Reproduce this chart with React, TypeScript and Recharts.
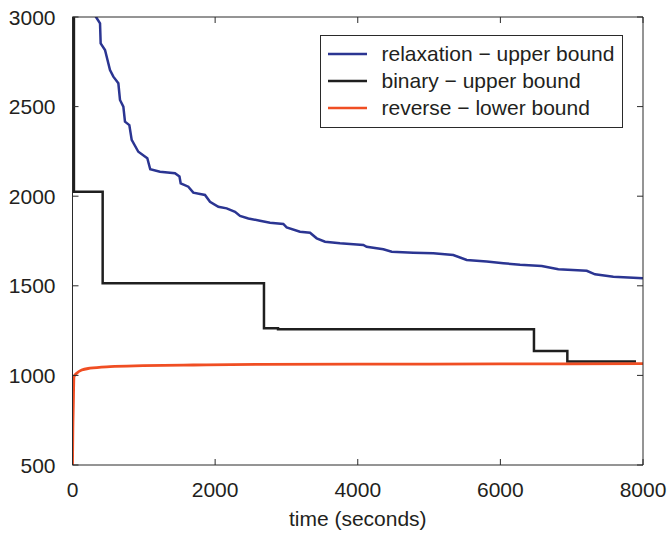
import React from 'react';
import { LineChart, Line, XAxis, YAxis, Legend } from 'recharts';

const relaxTime = [290, 330, 386, 395, 456, 526, 573, 643, 666, 713, 736, 797, 830, 923, 1049, 1090, 1227, 1437, 1500, 1517, 1624, 1694, 1858, 1928, 2045, 2162, 2279, 2349, 2466, 2629, 2770, 2956, 3003, 3190, 3331, 3424, 3541, 3751, 4078, 4125, 4359, 4476, 4779, 5060, 5340, 5528, 5808, 6042, 6276, 6580, 6813, 7211, 7327, 7584, 7865, 8000];
const relaxValue = [3030, 3000, 2965, 2853, 2816, 2704, 2667, 2630, 2537, 2500, 2416, 2397, 2314, 2248, 2212, 2150, 2137, 2128, 2110, 2072, 2053, 2020, 2007, 1969, 1941, 1932, 1913, 1890, 1876, 1863, 1852, 1845, 1826, 1802, 1796, 1765, 1746, 1737, 1728, 1718, 1704, 1690, 1685, 1681, 1672, 1644, 1635, 1626, 1617, 1611, 1592, 1584, 1564, 1551, 1545, 1542];

const binaryTime = [20, 20, 423, 2685, 2882, 6471, 6939, 7902];
const binaryValue = [3600, 2025, 1514, 1263, 1257, 1136, 1077, 1077];

const reverseTime = [0, 5, 11, 21, 59, 129, 245, 526, 993, 1694, 2629, 4000, 6000, 8000];
const reverseValue = [500, 700, 825, 993, 1012, 1030, 1040, 1049, 1054, 1058, 1062, 1063, 1064, 1066];

const xTicks = [0, 2000, 4000, 6000, 8000];
const yTicks = [500, 1000, 1500, 2000, 2500, 3000];
const seriesNames = ['relaxation − upper bound', 'binary − upper bound', 'reverse − lower bound'];
const seriesColors = ['#2b3592', '#1f1f1f', '#f04e23'];
const xLabel = 'time (seconds)';

const toRows = (ts: number[], vs: number[]) => ts.map((t, i) => ({ t, v: vs[i] }));
const relaxData = toRows(relaxTime, relaxValue);
const binaryData = toRows(binaryTime, binaryValue);
const reverseData = toRows(reverseTime, reverseValue);

const FONT = '"Liberation Sans", Arial, Helvetica, sans-serif';
const TEXT = '#231f20';
const AXIS = '#2a2a2a';
const FS = 21;

const BottomTick = (props: any) => {
  const { x, y, payload } = props;
  return (
    <g>
      <line x1={x} x2={x} y1={y} y2={y - 6} stroke={AXIS} strokeWidth={1} />
      <text x={x} y={y + 32} textAnchor="middle" fontSize={FS} fontFamily={FONT} fill={TEXT}>
        {payload.value}
      </text>
    </g>
  );
};

const LeftTick = (props: any) => {
  const { x, y, payload } = props;
  return (
    <g>
      <line x1={x} x2={x + 6} y1={y} y2={y} stroke={AXIS} strokeWidth={1} />
      <text x={x - 17} y={y + 7.5} textAnchor="end" fontSize={FS} fontFamily={FONT} fill={TEXT}>
        {payload.value}
      </text>
    </g>
  );
};

const TopTick = (props: any) => {
  const { x, y } = props;
  return <line x1={x} x2={x} y1={y} y2={y + 6} stroke={AXIS} strokeWidth={1} />;
};

const RightTick = (props: any) => {
  const { x, y } = props;
  return <line x1={x - 6} x2={x} y1={y} y2={y} stroke={AXIS} strokeWidth={1} />;
};

const LegendBox = () => {
  const rowY = [19, 46, 73];
  return (
    <svg width={303} height={93} style={{ display: 'block' }}>
      <rect x={0.5} y={0.5} width={302} height={92} fill="#ffffff" stroke={AXIS} strokeWidth={1} />
      {seriesNames.map((name, i) => (
        <g key={name}>
          <line x1={8} x2={47} y1={rowY[i]} y2={rowY[i]} stroke={seriesColors[i]} strokeWidth={2.3} />
          <text x={61.5} y={rowY[i] + 7} fontSize={FS} fontFamily={FONT} fill={TEXT}>
            {name}
          </text>
        </g>
      ))}
    </svg>
  );
};

export default function App() {
  return (
    <div style={{ position: 'absolute', left: 0, top: 0, background: '#ffffff' }}>
      <LineChart width={668} height={534} margin={{ top: 16, right: 24, bottom: 0, left: 0 }}>
        <XAxis
          xAxisId="b"
          type="number"
          dataKey="t"
          domain={[0, 8000]}
          ticks={xTicks}
          interval={0}
          allowDataOverflow
          height={69}
          tickSize={0}
          tickMargin={0}
          tick={<BottomTick />}
          axisLine={{ stroke: AXIS, strokeWidth: 1 }}
          label={{ value: xLabel, position: 'insideBottom', offset: 8, fill: TEXT, fontSize: FS, fontFamily: FONT }}
        />
        <XAxis
          xAxisId="t"
          orientation="top"
          type="number"
          dataKey="t"
          domain={[0, 8000]}
          ticks={xTicks}
          interval={0}
          allowDataOverflow
          height={1}
          tickSize={0}
          tickMargin={0}
          tick={<TopTick />}
          axisLine={{ stroke: AXIS, strokeWidth: 1 }}
        />
        <YAxis
          yAxisId="l"
          type="number"
          domain={[500, 3000]}
          ticks={yTicks}
          interval={0}
          allowDataOverflow
          width={72.5}
          tickSize={0}
          tickMargin={0}
          tick={<LeftTick />}
          axisLine={{ stroke: AXIS, strokeWidth: 1 }}
        />
        <YAxis
          yAxisId="r"
          orientation="right"
          type="number"
          domain={[500, 3000]}
          ticks={yTicks}
          interval={0}
          allowDataOverflow
          width={1}
          tickSize={0}
          tickMargin={0}
          tick={<RightTick />}
          axisLine={{ stroke: AXIS, strokeWidth: 1 }}
        />
        <Line
          data={relaxData}
          dataKey="v"
          name={seriesNames[0]}
          xAxisId="b"
          yAxisId="l"
          type="linear"
          dot={false}
          stroke={seriesColors[0]}
          strokeWidth={2.5}
          isAnimationActive={false}
        />
        <Line
          data={binaryData}
          dataKey="v"
          name={seriesNames[1]}
          xAxisId="b"
          yAxisId="l"
          type="stepAfter"
          dot={false}
          stroke={seriesColors[1]}
          strokeWidth={2.5}
          isAnimationActive={false}
        />
        <Line
          data={reverseData}
          dataKey="v"
          name={seriesNames[2]}
          xAxisId="b"
          yAxisId="l"
          type="monotone"
          dot={false}
          stroke={seriesColors[2]}
          strokeWidth={2.8}
          isAnimationActive={false}
        />
        <Line
          data={relaxData}
          dataKey="v"
          xAxisId="t"
          yAxisId="r"
          stroke="none"
          strokeWidth={0}
          dot={false}
          legendType="none"
          isAnimationActive={false}
        />
        <Legend
          layout="vertical"
          align="center"
          verticalAlign="middle"
          content={<LegendBox />}
          wrapperStyle={{ position: 'absolute', left: 320, top: 35, width: 303, height: 93, margin: 0 }}
        />
      </LineChart>
    </div>
  );
}
